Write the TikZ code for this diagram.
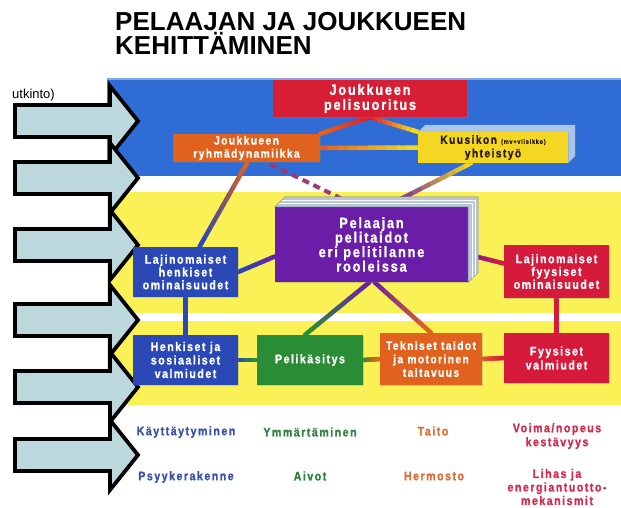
\documentclass[tikz,border=0pt]{standalone}
\usepackage{fontspec}
\setmainfont{Liberation Sans}
\newfontfamily\bxf[LetterSpace=12,FakeStretch=0.85,FakeBold=1]{Liberation Sans}
\usetikzlibrary{calc,shadows}
\pgfdeclarelayer{back}
\pgfdeclarelayer{conn}
\pgfsetlayers{back,conn,main}
\definecolor{bandblue}{HTML}{2F6CD6}
\definecolor{bandyellow}{HTML}{F9F155}
\definecolor{arrowfill}{HTML}{BCD8DC}
\definecolor{cred}{HTML}{D81E34}
\definecolor{corange}{HTML}{E0621E}
\definecolor{cyellow}{HTML}{F4D722}
\definecolor{cpurple}{HTML}{6A1EA8}
\definecolor{cblue}{HTML}{2A48B6}
\definecolor{cgreen}{HTML}{2A8C34}
\definecolor{cred2}{HTML}{D61A3C}
\definecolor{cext}{HTML}{B8C6D8}
\definecolor{cext2}{HTML}{A9C6EA}
\definecolor{cdash}{HTML}{9B3A78}
\definecolor{ctxt}{HTML}{2A1A05}
\definecolor{lblue}{HTML}{3A52A8}
\definecolor{lgreen}{HTML}{2F8240}
\definecolor{lorange}{HTML}{E26A32}
\definecolor{lred}{HTML}{D42A4E}
\newcommand\gline[4]{%
  \foreach \k in {0,...,9}{%
    \pgfmathsetmacro\ga{\k/10}%
    \pgfmathsetmacro\gb{(\k+1)/10}%
    \pgfmathtruncatemacro\gm{100-\k*100/9}%
    \draw[conn, color=#3!\gm!#4] ($(#1)!\ga!(#2)$) -- ($(#1)!\gb!(#2)$);
  }}
\begin{document}
\begin{tikzpicture}[x=1pt,y=-1pt,
  box/.style={rectangle, inner sep=0pt, align=center, text=white,
    drop shadow={shadow xshift=1.2pt,shadow yshift=-1.2pt,opacity=0.3}},
  bt/.style={font=\bxf\bfseries\fontsize{12.5}{12.8}\selectfont},
  conn/.style={line width=4.5pt, line cap=round},
  arrowbox/.style={fill=arrowfill, draw=black, line width=3.8pt, line join=miter},
  lab/.style={font=\bxf\bfseries\fontsize{12.5}{14}\selectfont, align=center, inner sep=0pt}]
\useasboundingbox (0,0) rectangle (621,508);

\begin{pgfonlayer}{back}
  \fill[white] (0,0) rectangle (621,508);
  \fill[bandblue] (107,78) rectangle (621,176);
  \fill[bandblue!60!white] (107,78) rectangle (621,80);
  \fill[bandyellow] (107,192) rectangle (621,405);
  \fill[white] (107,313) rectangle (621,321);
  \foreach \c in {121,178,245,320,387,455}{
    \draw[arrowbox] (15,\c-16) -- (110,\c-16) -- (110,\c-35) -- (138,\c)
      -- (110,\c+35) -- (110,\c+16) -- (15,\c+16) -- cycle;
  }
\end{pgfonlayer}

% title
\node[anchor=base west, inner sep=0pt, font=\fontsize{26}{26}\selectfont\bfseries] (t1) at (115,31) {PELAAJAN JA JOUKKUEEN};
\node[anchor=base west, inner sep=0pt, font=\fontsize{26}{26}\selectfont\bfseries] (t2) at (115,55) {KEHITTÄMINEN};
\node[anchor=base east, inner sep=0pt, font=\fontsize{13}{13}\selectfont] (ut) at (55,99) {utkinto)};

% boxes
\node[box, fill=cred, minimum width=194pt, minimum height=37pt,
  font=\bxf\bfseries\fontsize{15}{15}\selectfont] (top) at (370,98.5) {Joukkueen\\pelisuoritus};
\node[box, fill=corange, minimum width=147pt, minimum height=28pt,
  font=\bxf\bfseries\fontsize{12}{13}\selectfont] (ryhm) at (246.5,148) {Joukkueen\\ryhmädynamiikka};
\fill[cext2] (418,132) -- (425,125) -- (575,125) -- (575,156) -- (568,163) -- (568,132) -- cycle;
\node[box, fill=cyellow, text=ctxt, minimum width=150pt, minimum height=31pt,
  font=\bxf\bfseries\fontsize{12}{13.5}\selectfont] (kuusi) at (493,147.5)
  {Kuusikon {\fontsize{6.5}{7}\selectfont(mv+viisikko)}\\yhteistyö};
\node[box, fill=cpurple, minimum width=193pt, minimum height=75pt,
  font=\bxf\bfseries\fontsize{15}{14.5}\selectfont] (pel) at (371.5,244.5)
  {Pelaajan\\pelitaidot\\eri pelitilanne\\rooleissa};
\fill[cext, draw=cext!70!black, line width=0.5pt] (pel.north west) -- ($(pel.north west)+(10,-10)$)
  -- ($(pel.north east)+(10,-10)$) -- ($(pel.south east)+(10,-10)$)
  -- (pel.south east) -- (pel.north east) -- cycle;
\draw[white, line width=0.6pt] ($(pel.north west)+(4,-4)$) -- ($(pel.north east)+(4,-4)$) -- ($(pel.south east)+(4,-4)$);
\draw[white, line width=0.6pt] ($(pel.north west)+(7,-7)$) -- ($(pel.north east)+(7,-7)$) -- ($(pel.south east)+(7,-7)$);
\node[box, bt, fill=cblue, minimum width=105pt, minimum height=50pt] (lhen) at (185.5,272)
  {Lajinomaiset\\henkiset\\ominaisuudet};
\node[box, bt, fill=cred2, minimum width=105pt, minimum height=53pt] (lfyy) at (556.5,271.5)
  {Lajinomaiset\\fyysiset\\ominaisuudet};
\node[box, bt, fill=cblue, minimum width=105pt, minimum height=50pt,
  font=\bxf\bfseries\fontsize{12.5}{13.5}\selectfont] (hen) at (185.5,360)
  {Henkiset ja\\sosiaaliset\\valmiudet};
\node[box, bt, fill=cgreen, minimum width=106pt, minimum height=50pt] (peli) at (310,360) {Pelikäsitys};
\node[box, fill=corange, minimum width=102pt, minimum height=52pt,
  font=\bxf\bfseries\fontsize{12}{13.5}\selectfont] (tek) at (431,359)
  {Tekniset taidot\\ja motorinen\\taitavuus};
\node[box, bt, fill=cred2, minimum width=105pt, minimum height=50pt,
  font=\bxf\bfseries\fontsize{12.5}{14}\selectfont] (fyy) at (556.5,358) {Fyysiset\\valmiudet};

% connectors
\begin{pgfonlayer}{conn}
  \gline{top.south}{ryhm.north east}{cred}{corange}
  \gline{top.south}{kuusi.north west}{cred}{cyellow}
  \gline{ryhm.east}{kuusi.west}{corange}{cyellow}
  \coordinate (r1) at ($(ryhm.south)+(1,0)$);
  \coordinate (l1) at ($(lhen.north)+(14,0)$);
  \gline{r1}{l1}{corange}{cblue}
  \coordinate (r2) at ($(ryhm.south east)+(-50,2)$);
  \coordinate (p1) at ($(pel.north)+(-13,0)$);
  \draw[line width=4pt, dash pattern=on 7pt off 5pt, cdash] (r2) -- (p1);
  \coordinate (k1) at ($(kuusi.south)+(-22,0)$);
  \coordinate (p2) at ($(pel.north)+(14,0)$);
  \gline{k1}{p2}{cyellow}{cpurple}
  \coordinate (p3) at ($(pel.west)+(0,12)$);
  \gline{p3}{lhen.east}{cpurple}{cblue}
  \coordinate (p4) at ($(pel.east)+(0,10)$);
  \coordinate (f1) at ($(lfyy.west)+(0,-8)$);
  \gline{p4}{f1}{cpurple}{cred2}
  \coordinate (p5) at ($(pel.south)+(-2,0)$);
  \coordinate (g1) at ($(peli.north)+(-5,0)$);
  \gline{p5}{g1}{cpurple}{cgreen}
  \coordinate (p6) at ($(pel.south)+(3,0)$);
  \gline{p6}{tek.north}{cpurple}{corange}
  \draw[conn, cblue] (lhen.south) -- (hen.north);
  \draw[conn, cred2] (lfyy.south) -- (fyy.north);
  \gline{hen.east}{peli.west}{cblue}{cgreen}
  \gline{peli.east}{tek.west}{cgreen}{corange}
  \gline{tek.east}{fyy.west}{corange}{cred2}
\end{pgfonlayer}

% bottom labels
\node[lab, text=lblue] (b1) at (186,432) {Käyttäytyminen};
\node[lab, text=lgreen] (b2) at (310,432) {Ymmärtäminen};
\node[lab, text=lorange] (b3) at (433,431) {Taito};
\node[lab, text=lred] (b4) at (557,436) {Voima/nopeus\\kestävyys};
\node[lab, text=lblue] (b5) at (186,477) {Psyykerakenne};
\node[lab, text=lgreen] (b6) at (310,476) {Aivot};
\node[lab, text=lorange] (b7) at (434,476) {Hermosto};
\node[lab, text=lred, font=\bxf\bfseries\fontsize{12.5}{13.5}\selectfont] (b8) at (557,487) {Lihas ja\\energiantuotto-\\mekanismit};
\end{tikzpicture}
\end{document}
